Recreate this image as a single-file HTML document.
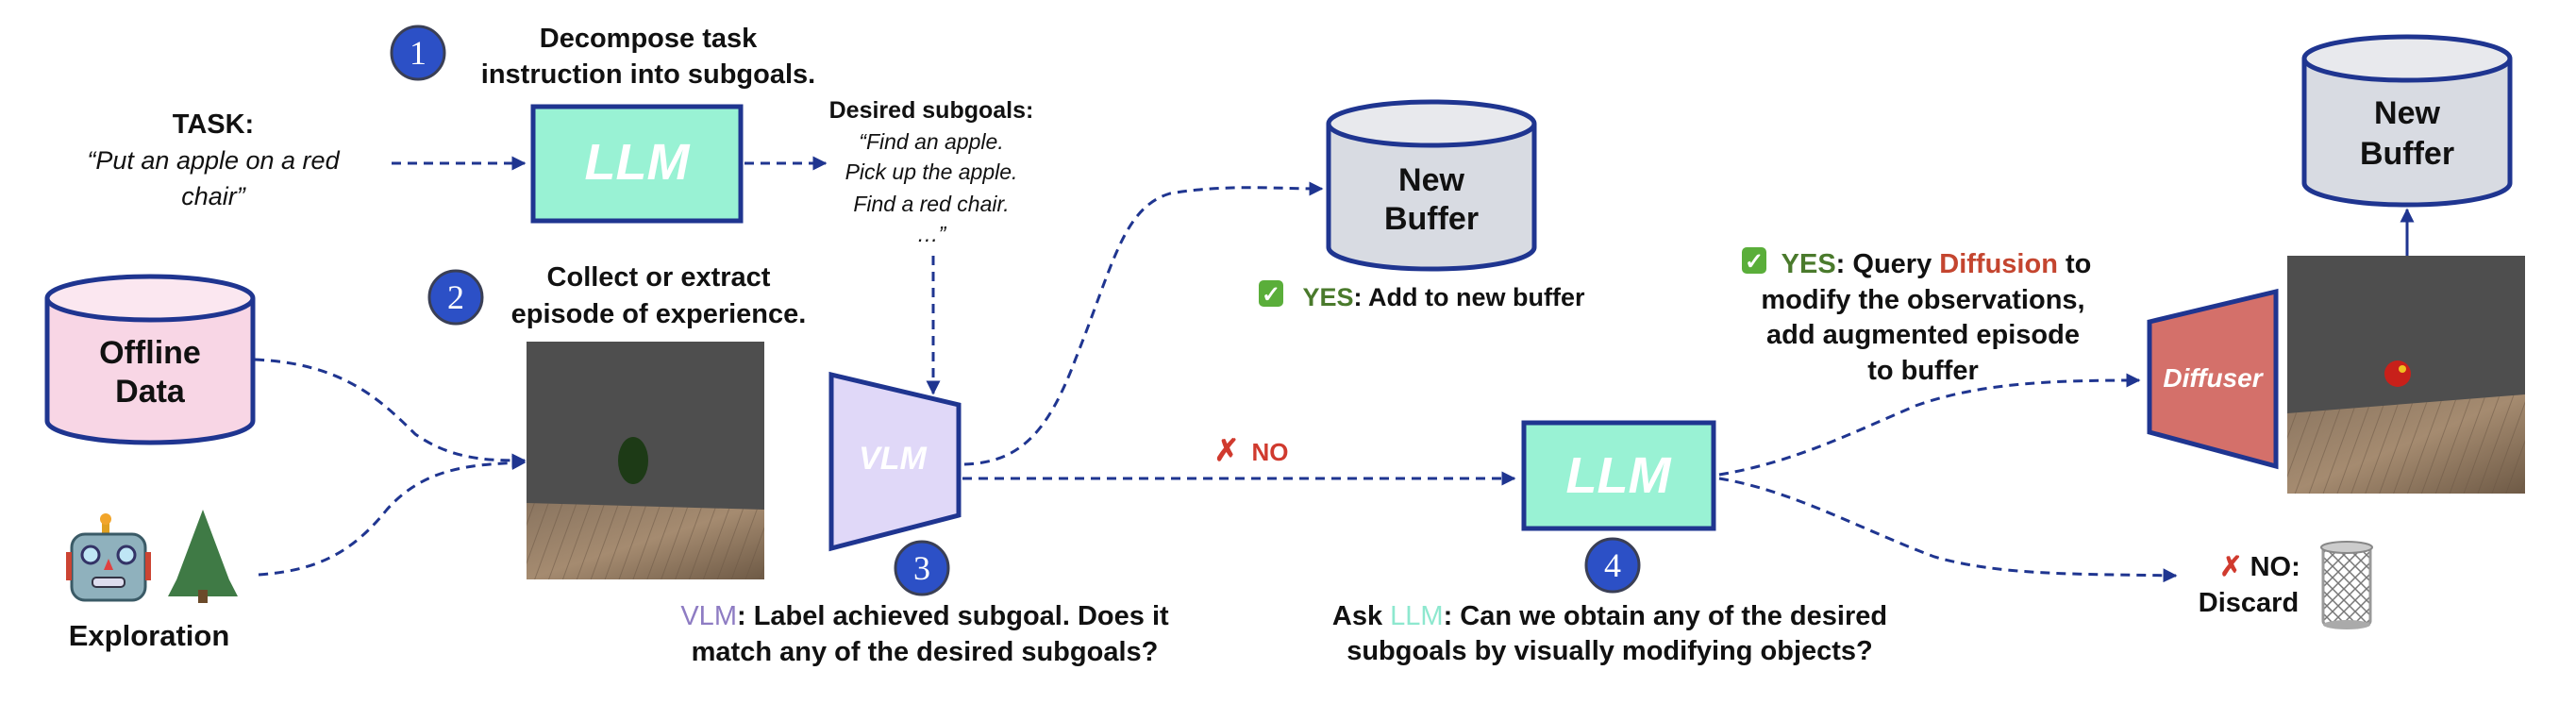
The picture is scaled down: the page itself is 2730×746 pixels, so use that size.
<!DOCTYPE html>
<html><head><meta charset="utf-8"><style>
html,body{margin:0;padding:0;background:#fff;}
svg{display:block;}
text{font-family:"Liberation Sans",sans-serif;font-weight:bold;fill:#111;}
.it{font-style:italic;font-weight:normal;}
</style></head><body>
<svg width="2730" height="746" viewBox="0 0 2730 746" xmlns="http://www.w3.org/2000/svg">
<defs>
<marker id="ar" viewBox="0 0 10 10" refX="9" refY="5" markerWidth="5" markerHeight="5" orient="auto-start-reverse"><path d="M0,0 L10,5 L0,10 z" fill="#1f3590"/></marker>
<linearGradient id="floor" x1="0" y1="0" x2="1" y2="1"><stop offset="0" stop-color="#8a7560"/><stop offset="0.5" stop-color="#a58b70"/><stop offset="1" stop-color="#6e5a46"/></linearGradient>
<pattern id="wood" width="14" height="80" patternUnits="userSpaceOnUse" patternTransform="rotate(20)"><rect width="14" height="80" fill="none"/><line x1="0" y1="0" x2="0" y2="80" stroke="#6a5644" stroke-width="2" opacity="0.5"/></pattern>
<pattern id="mesh" width="12" height="12" patternUnits="userSpaceOnUse"><path d="M0,0 L12,12 M12,0 L0,12" stroke="#777" stroke-width="1.5"/></pattern>
</defs>
<g stroke="#1f3590" stroke-width="3" fill="none" stroke-dasharray="10,7">
<path d="M415,173 L556,173" marker-end="url(#ar)"/>
<path d="M789,173 L875,173" marker-end="url(#ar)"/>
<path d="M989,271 L989,417" marker-end="url(#ar)"/>
<path d="M270,381 C360,385 400,420 440,460 C480,488 520,488 556,488" marker-end="url(#ar)"/>
<path d="M274,609 C330,605 370,590 410,540 C450,495 500,492 556,490" marker-end="url(#ar)"/>
<path d="M1022,492 C1080,490 1110,460 1140,380 C1180,280 1190,220 1240,205 C1300,195 1350,200 1401,200" marker-end="url(#ar)"/>
<path d="M1020,507 L1605,507" marker-end="url(#ar)"/>
<path d="M1822,503 C1900,490 1960,460 2030,430 C2100,405 2180,403 2267,403" marker-end="url(#ar)"/>
<path d="M1822,507 C1900,520 1970,560 2050,590 C2120,610 2200,608 2306,610" marker-end="url(#ar)"/>
</g>
<path d="M2551,271 L2551,222" stroke="#1f3590" stroke-width="3" marker-end="url(#ar)"/>
<g stroke="#3a3f55" stroke-width="3" fill="#2c50c6">
<circle cx="443" cy="56" r="28"/><circle cx="483" cy="315" r="28"/><circle cx="977" cy="602" r="28"/><circle cx="1709" cy="599" r="28"/>
</g>
<g font-size="36" text-anchor="middle">
<text x="443" y="68" style="fill:#fff;font-family:'Liberation Serif',serif;font-weight:normal">1</text>
<text x="483" y="327" style="fill:#fff;font-family:'Liberation Serif',serif;font-weight:normal">2</text>
<text x="977" y="614" style="fill:#fff;font-family:'Liberation Serif',serif;font-weight:normal">3</text>
<text x="1709" y="611" style="fill:#fff;font-family:'Liberation Serif',serif;font-weight:normal">4</text>
</g>
<rect x="565" y="113" width="220" height="121" fill="#99f2d4" stroke="#1f3590" stroke-width="5"/>
<text x="675" y="190" font-size="54" text-anchor="middle" style="fill:#fff;font-style:italic">LLM</text>
<rect x="1615" y="448" width="201" height="112" fill="#99f2d4" stroke="#1f3590" stroke-width="5"/>
<text x="1715" y="522" font-size="54" text-anchor="middle" style="fill:#fff;font-style:italic">LLM</text>
<path d="M881,397 L1016,429 L1016,546 L881,581 Z" fill="#e0d8f8" stroke="#1f3590" stroke-width="5"/>
<text x="946" y="497" font-size="34" text-anchor="middle" style="fill:#fff;font-style:italic">VLM</text>
<path d="M2278,341 L2412,309 L2412,494 L2278,458 Z" fill="#d4706a" stroke="#1f3590" stroke-width="5"/>
<text x="2345" y="410" font-size="28" text-anchor="middle" style="fill:#fff;font-style:italic">Diffuser</text>
<g stroke="#1f3590" stroke-width="5">
<path d="M50,316 L50,446 A109,23 0 0 0 268,446 L268,316" fill="#f8d6e5"/>
<ellipse cx="159" cy="316" rx="109" ry="23" fill="#fbe7f0"/>
<path d="M1408,131 L1408,262 A109,23 0 0 0 1626,262 L1626,131" fill="#d8dbe2"/>
<ellipse cx="1517" cy="131" rx="109" ry="23" fill="#e8e9ed"/>
<path d="M2442,62 L2442,194 A109,23 0 0 0 2660,194 L2660,62" fill="#d8dbe2"/>
<ellipse cx="2551" cy="62" rx="109" ry="23" fill="#e8e9ed"/>
</g>
<g font-size="34" text-anchor="middle">
<text x="159" y="385">Offline</text><text x="159" y="426">Data</text>
<text x="1517" y="202">New</text><text x="1517" y="243">Buffer</text>
<text x="2551" y="131">New</text><text x="2551" y="174">Buffer</text>
</g>
<rect x="558" y="362" width="252" height="252" fill="#4e4e4e"/>
<path d="M558,533 L810,540 L810,614 L558,614 Z" fill="url(#floor)"/>
<path d="M558,533 L810,540 L810,614 L558,614 Z" fill="url(#wood)"/>
<ellipse cx="671" cy="488" rx="16" ry="25" fill="#1d3a16"/>
<rect x="2424" y="271" width="252" height="252" fill="#4e4e4e"/>
<path d="M2424,438 L2676,418 L2676,523 L2424,523 Z" fill="url(#floor)"/>
<path d="M2424,438 L2676,418 L2676,523 L2424,523 Z" fill="url(#wood)"/>
<circle cx="2541" cy="396" r="14" fill="#c8201a"/><circle cx="2546" cy="391" r="4" fill="#f0c020"/>
<rect x="108" y="554" width="8" height="12" fill="#e0a020"/>
<circle cx="112" cy="550" r="6" fill="#f2a52a"/>
<rect x="76" y="566" width="78" height="70" rx="14" fill="#8fb1bd" stroke="#3a5a66" stroke-width="3"/>
<rect x="70" y="585" width="6" height="30" fill="#c43"/><rect x="154" y="585" width="6" height="30" fill="#c43"/>
<circle cx="96" cy="588" r="9" fill="#bfe6f5" stroke="#336" stroke-width="3"/><circle cx="134" cy="588" r="9" fill="#bfe6f5" stroke="#336" stroke-width="3"/>
<path d="M115,592 L110,604 L120,604 Z" fill="#e04040"/>
<rect x="98" y="612" width="34" height="10" rx="4" fill="#dde" stroke="#334" stroke-width="2"/>
<path d="M215,540 L245,620 L185,620 Z M215,560 L252,632 L178,632 Z" fill="#3f7a45"/>
<rect x="210" y="625" width="10" height="14" fill="#6b4a2a"/>
<rect x="2462" y="580" width="50" height="82" rx="4" fill="url(#mesh)" stroke="#999" stroke-width="3"/>
<ellipse cx="2487" cy="580" rx="27" ry="6" fill="#ccc" stroke="#888" stroke-width="2"/>
<ellipse cx="2487" cy="662" rx="25" ry="5" fill="#aaa"/>
<g font-size="29" text-anchor="middle">
<text x="687" y="50">Decompose task</text>
<text x="687" y="88">instruction into subgoals.</text>
<text x="698" y="303">Collect or extract</text>
<text x="698" y="342">episode of experience.</text>
<text x="226" y="141">TASK:</text>
<text x="158" y="684" font-size="31">Exploration</text>
<text x="980" y="662"><tspan style="fill:#8e7cc3;font-weight:normal">VLM</tspan>: Label achieved subgoal. Does it</text>
<text x="980" y="700">match  any of the desired subgoals?</text>
<text x="1706" y="662">Ask <tspan style="fill:#8ee8cf;font-weight:normal">LLM</tspan>: Can we obtain any of the desired</text>
<text x="1706" y="699">subgoals by visually modifying objects?</text>
<text x="2052" y="289"><tspan style="fill:#4a7a2c">YES</tspan>: Query <tspan style="fill:#c4452f">Diffusion</tspan> to</text>
<text x="2038" y="327">modify the observations,</text>
<text x="2038" y="364">add augmented episode</text>
<text x="2038" y="402">to buffer</text>
<text x="1530" y="324" font-size="27"><tspan style="fill:#4a7a2c">YES</tspan>: Add to new buffer</text>
<text x="2395" y="610"><tspan style="fill:#d03a2e">✗</tspan> NO:</text>
<text x="2383" y="648">Discard</text>
<text x="987" y="125" font-size="25">Desired subgoals:</text>
</g>
<g font-size="27" text-anchor="middle">
<text x="226" y="179" class="it">“Put an apple on a red</text>
<text x="226" y="217" class="it">chair”</text>
</g>
<g font-size="23" text-anchor="middle">
<text x="987" y="158" class="it">“Find an apple.</text>
<text x="987" y="190" class="it">Pick up the apple.</text>
<text x="987" y="224" class="it">Find a red chair.</text>
<text x="987" y="256" class="it">…”</text>
</g>
<rect x="1334" y="297" width="26" height="28" rx="5" fill="#5aae3a"/>
<text x="1347" y="320" font-size="24" text-anchor="middle" style="fill:#fff">✓</text>
<rect x="1846" y="262" width="26" height="28" rx="5" fill="#5aae3a"/>
<text x="1859" y="285" font-size="24" text-anchor="middle" style="fill:#fff">✓</text>
<text x="1300" y="488" font-size="32" text-anchor="middle" style="fill:#d03a2e">✗</text>
<text x="1346" y="488" font-size="26" text-anchor="middle" style="fill:#d03a2e">NO</text>
</svg>
</body></html>
